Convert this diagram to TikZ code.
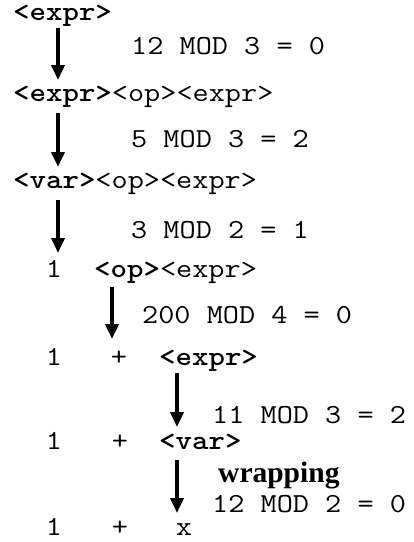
\documentclass[tikz,border=0pt]{standalone}
\usepackage{fontspec}
\newfontfamily\notefont{Liberation Serif}
\usetikzlibrary{arrows.meta}

% typewriter text, set a little wider than its natural shape
\newcommand{\widen}[1]{\scalebox{1.14}[1]{#1}}

\tikzset{
  txt/.style={inner sep=0pt, anchor=base west, font=\fontsize{27.5}{33}\selectfont\ttfamily},
  tok/.style={inner sep=0pt, anchor=base, font=\fontsize{27.5}{33}\selectfont\ttfamily},
  note/.style={inner sep=0pt, anchor=base west, font=\fontsize{29.5}{34}\selectfont\notefont\bfseries},
  derive/.style={line width=3.6pt, -{Triangle[width=13pt,length=15pt]}}
}

\begin{document}
\begin{tikzpicture}[x=1pt,y=1pt]
  \useasboundingbox (0,0) rectangle (414,-542);

  % derivation lines
  \node[txt] (l1) at (13,-20.5) {\widen{\bfseries <expr>}};
  \node[txt] (l2) at (13,-101) {\widen{{\bfseries <expr>}<op><expr>}};
  \node[txt] (l3) at (13,-188) {\widen{{\bfseries <var>}<op><expr>}};

  \node[tok] (l4a) at (54,-277) {\widen{1}};
  \node[txt] (l4b) at (94,-277) {\widen{{\bfseries <op>}<expr>}};

  \node[tok] (l5a) at (54,-365)  {\widen{1}};
  \node[tok] (l5b) at (119,-365) {\widen{+}};
  \node[txt] (l5c) at (159,-365) {\widen{\bfseries <expr>}};

  \node[tok] (l6a) at (54,-449)  {\widen{1}};
  \node[tok] (l6b) at (120,-449) {\widen{+}};
  \node[txt] (l6c) at (159,-449) {\widen{\bfseries <var>}};

  \node[tok] (l7a) at (54,-535)  {\widen{1}};
  \node[tok] (l7b) at (120,-535) {\widen{+}};
  \node[tok] (l7c) at (184,-535) {\widen{x}};

  % computations beside each step
  \node[txt] (c1) at (131,-54)  {\widen{12 MOD 3 = 0}};
  \node[txt] (c2) at (131,-147) {\widen{5 MOD 3 = 2}};
  \node[txt] (c3) at (131,-238) {\widen{3 MOD 2 = 1}};
  \node[txt] (c4) at (142,-323) {\widen{200 MOD 4 = 0}};
  \node[txt] (c5) at (212,-423) {\widen{11 MOD 3 = 2}};
  \node[note] (w)  at (218,-482) {wrapping};
  \node[txt] (c6) at (212,-512) {\widen{12 MOD 2 = 0}};

  % arrow end points
  \coordinate (a1s) at (58,-28);   \coordinate (a1e) at (58,-80);
  \coordinate (a2s) at (58,-113);  \coordinate (a2e) at (58,-167);
  \coordinate (a3s) at (58,-200);  \coordinate (a3e) at (58,-253);
  \coordinate (a4s) at (112,-287); \coordinate (a4e) at (112,-339);
  \coordinate (a5s) at (177,-373); \coordinate (a5e) at (177,-427);
  \coordinate (a6s) at (177,-460); \coordinate (a6e) at (177,-513);

  \draw[derive] (a1s) -- (a1e);
  \draw[derive] (a2s) -- (a2e);
  \draw[derive] (a3s) -- (a3e);
  \draw[derive] (a4s) -- (a4e);
  \draw[derive] (a5s) -- (a5e);
  \draw[derive] (a6s) -- (a6e);
\end{tikzpicture}
\end{document}
